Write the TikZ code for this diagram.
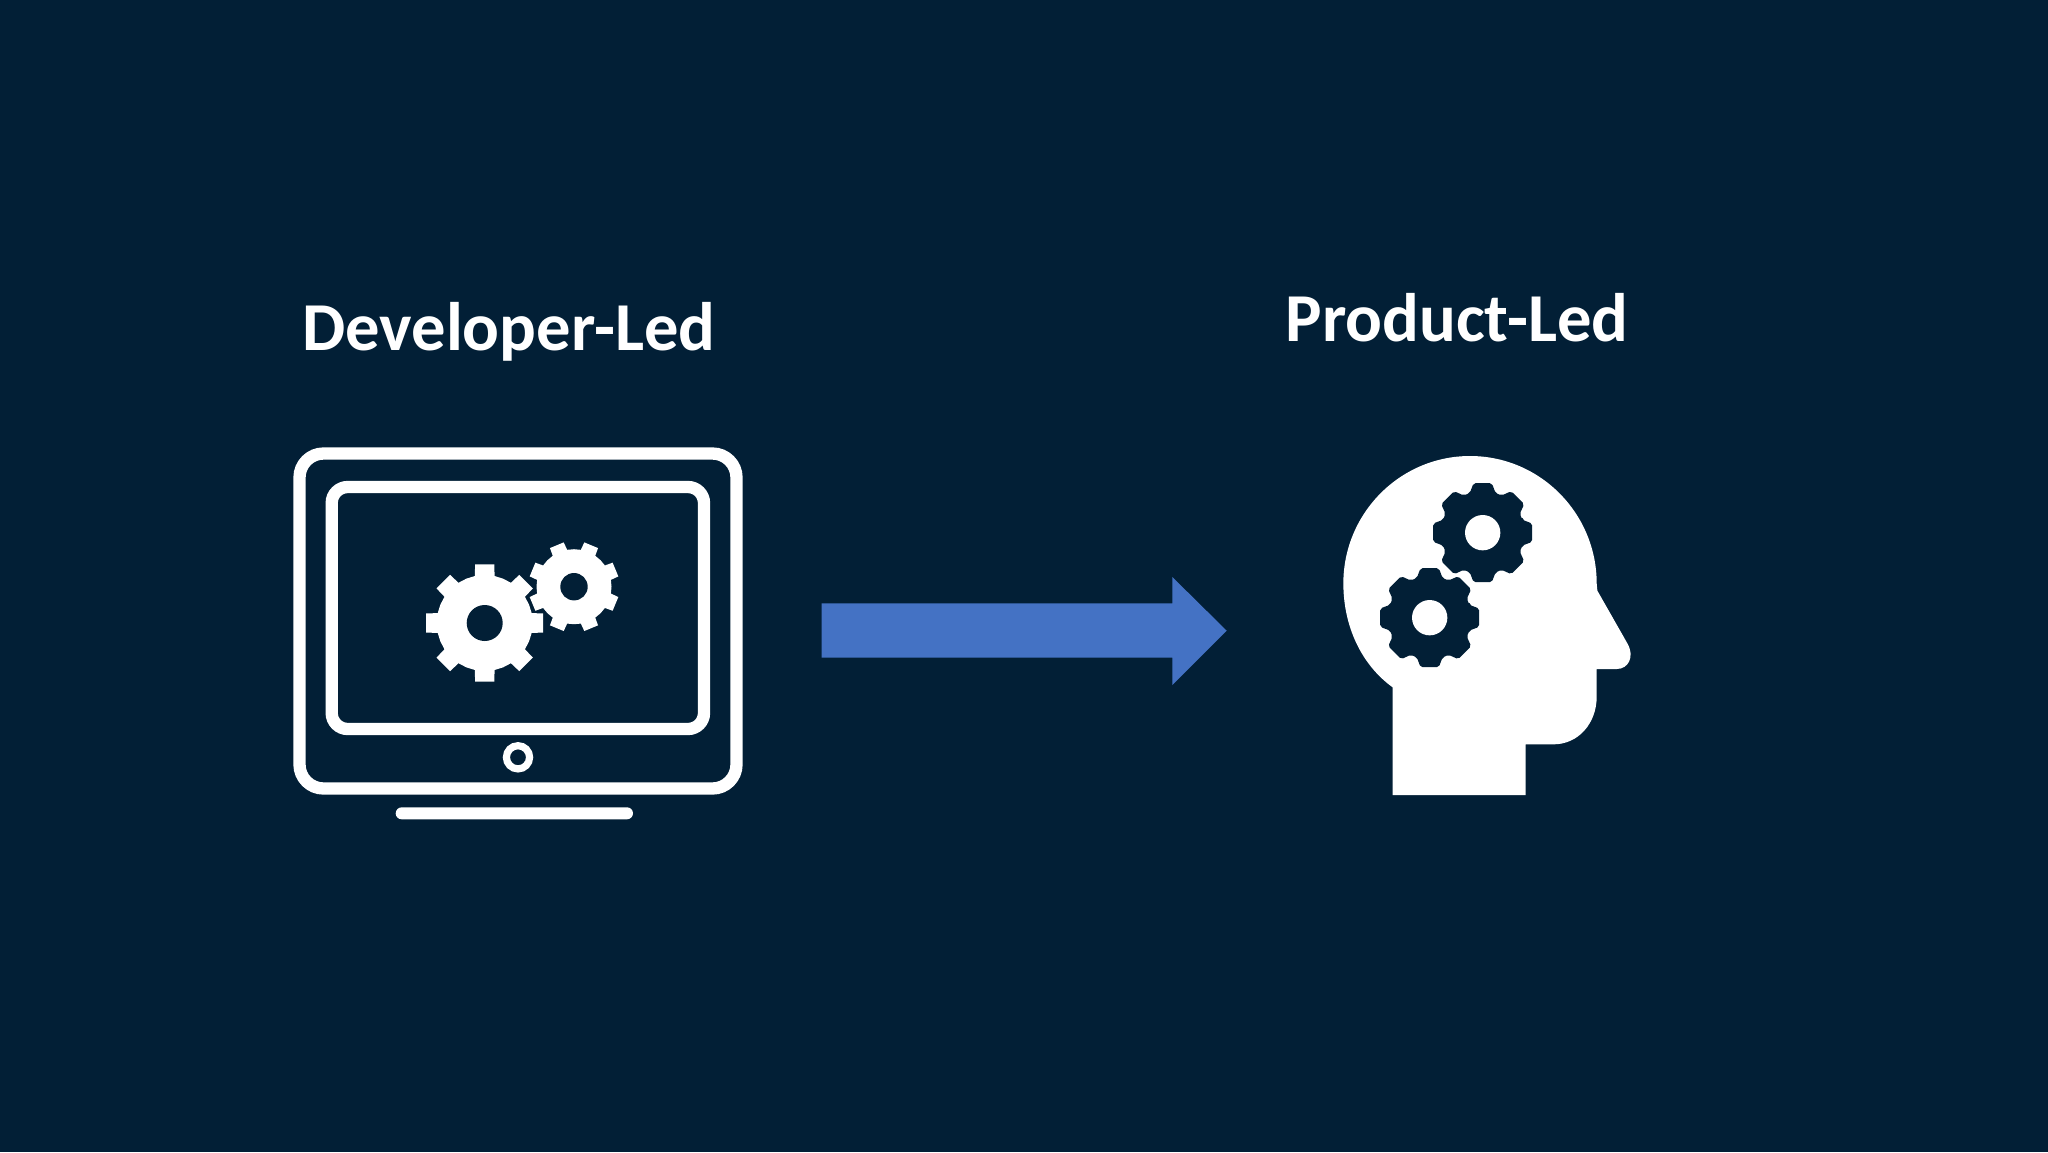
\documentclass[tikz,border=0pt]{standalone}
\usepackage{fontspec}
\setmainfont{Carlito}
\definecolor{bgnavy}{HTML}{021F36}
\definecolor{arrowblue}{HTML}{4472C4}
\tikzset{
  px/.style={x=0.5pt,y=-0.5pt},
  label/.style={text=white,font=\bfseries\fontsize{34.3}{38}\selectfont,anchor=base,inner sep=0pt},
  frame/.style={draw=white,line width=6.15pt,rounded corners=12pt},
}
% #1 cx, #2 cy, #3 valley r, #4 tooth outer r, #5 half angle at tip, #6 half angle at base, #7 first tooth angle, #8 fill colour, #9 corner rounding
\newcommand{\gearshape}[9]{%
  \fill[#8,rounded corners=#9,shift={(#1,#2)}]
    (#7-#6:#3)
    \foreach \ang in {0,45,...,315}{%
      -- (#7+\ang-#6:#3) -- (#7+\ang-#5:#4) -- (#7+\ang+#5:#4) -- (#7+\ang+#6:#3) -- (#7+\ang+22.5:#3)
    } -- cycle;
}
\begin{document}
\begin{tikzpicture}[px]
\useasboundingbox (0,0) rectangle (2048,1152);
\fill[bgnavy] (0,0) rectangle (2048,1152);

\node[label] (devlabel) at (509,350) {Developer-Led};
\node[label] (prodlabel) at (1457,341) {Product-Led};

% monitor
\draw[frame] (299.5,453.5) rectangle (736.5,788.5);
\draw[frame,rounded corners=8pt] (331.7,487) rectangle (704,729);
\draw[draw=white,line width=3.6pt] (518,757.3) circle[radius=11.6];
\fill[white,rounded corners=3pt] (395.7,807.3) rectangle (633,819.3);

% big gear
\gearshape{484.7}{623}{48}{59.3}{9.3}{11.9}{0}{white}{0pt}
% small gear with a dark gap where it overlaps
\fill[bgnavy] (574,586.7) circle[radius=40];
\gearshape{574}{586.7}{37.5}{45.5}{9.4}{12}{22.5}{white}{0pt}
\fill[bgnavy] (484.7,623) circle[radius=18];
\fill[bgnavy] (574,586.7) circle[radius=13.7];

% arrow
\fill[arrowblue] (821.7,603.3) -- (1172.3,603.3) -- (1172.3,577) -- (1226.7,630.7) -- (1172.3,685) -- (1172.3,657.7) -- (821.7,657.7) -- cycle;

% head
\begin{scope}[shift={(1320,440)},x=0.16667pt,y=-0.16667pt]
  \fill[white]
    (218,742) .. controls (125,675) and (70,560) .. (70,430)
    .. controls (70,220) and (240,48) .. (450,48)
    .. controls (660,48) and (830,220) .. (830,430)
    -- (832,452)
    -- (922,610) .. controls (945,650) and (925,687) .. (890,687)
    -- (830,687) -- (830,770) .. controls (830,850) and (775,913) .. (700,913)
    -- (617,913) -- (617,1065) -- (218,1065) -- cycle;
  \gearshape{488}{278}{125}{151}{10.5}{18}{0}{bgnavy}{1pt}
  \gearshape{329}{533}{125}{151}{10.5}{18}{0}{bgnavy}{1pt}
  \fill[white] (488,278) circle[radius=53];
  \fill[white] (329,533) circle[radius=53];
\end{scope}
\end{tikzpicture}
\end{document}
